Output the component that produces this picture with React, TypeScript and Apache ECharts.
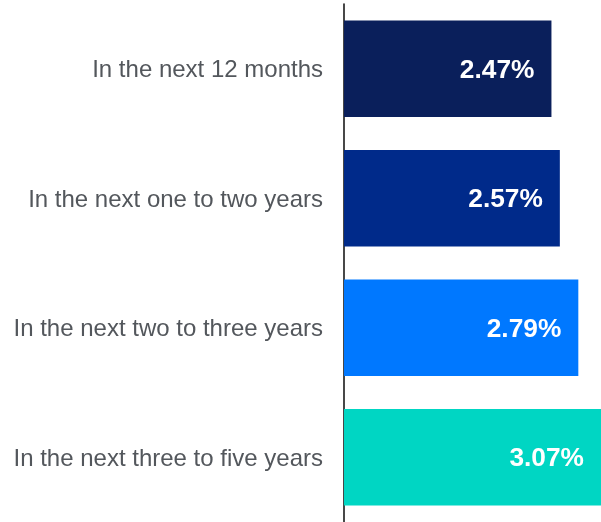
import React, { useEffect, useRef } from "react";
import * as echarts from "echarts";

const categories = [
  "In the next 12 months",
  "In the next one to two years",
  "In the next two to three years",
  "In the next three to five years",
];
const values = [2.47, 2.57, 2.79, 3.07];
const barColors = ["#0a1f5b", "#002a8a", "#0078ff", "#00d6c3"];

const FONT = "'Liberation Sans', Arial, sans-serif";

export default function App() {
  const ref = useRef<HTMLDivElement>(null);
  useEffect(() => {
    if (!ref.current) return;
    const chart = echarts.init(ref.current, null, { renderer: "svg" });
    chart.setOption({
      animation: false,
      grid: { left: 344, top: 4, width: 257, height: 520 },
      xAxis: {
        type: "value",
        min: 0,
        max: 3.06,
        show: false,
      },
      yAxis: {
        type: "category",
        inverse: true,
        data: categories,
        axisLine: { show: true, lineStyle: { color: "#1a1a1a", width: 1.6 } },
        axisTick: { show: false },
        axisLabel: {
          color: "#53575c",
          fontSize: 24,
          fontFamily: FONT,
          margin: 21,
          padding: [2, 0, 0, 0],
        },
      },
      series: [
        {
          type: "bar",
          barWidth: 96.5,
          data: values.map((v, i) => ({ value: v, itemStyle: { color: barColors[i] } })),
          label: {
            show: true,
            position: "insideRight",
            distance: 17,
            color: "#ffffff",
            fontWeight: "bold",
            fontSize: 26.3,
            fontFamily: FONT,
            formatter: (p: any) => p.value.toFixed(2) + "%",
          },
        },
      ],
    });
    return () => chart.dispose();
  }, []);
  return (
    <div
      ref={ref}
      style={{ position: "fixed", left: 0, top: 0, width: 601, height: 522 }}
    />
  );
}
